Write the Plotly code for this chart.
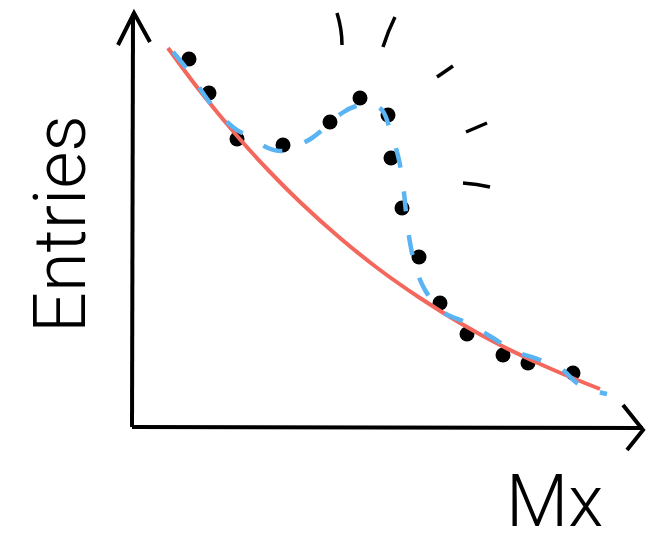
import plotly.graph_objects as go

# Measured invariant mass spectrum (arbitrary units)
mx_data = [5.7, 7.7, 10.5, 15.1, 19.8, 22.8, 25.6, 25.9, 27.0, 28.7, 30.8, 33.5, 37.1, 39.6, 44.1]
entries_data = [36.8, 33.4, 28.8, 28.2, 30.5, 32.9, 31.2, 26.9, 21.9, 17.0, 12.4, 9.3, 7.2, 6.4, 5.4]

# Smooth falling background expectation
mx_bkg = [3.6, 6.8, 10.6, 13.8, 16.8, 20.8, 24.8, 28.8, 32.8, 36.8, 40.8, 44.3, 46.8]
entries_bkg = [37.9, 33.6, 29.0, 25.5, 22.5, 18.9, 15.7, 12.9, 10.4, 8.2, 6.3, 4.8, 3.8]

# Background plus resonance bump
mx_sig = [4.1, 5.8, 7.3, 8.8, 10.5, 12.0, 13.6, 15.1, 16.5, 18.0, 19.5, 21.0, 22.4, 23.8, 25.0,
          25.9, 26.7, 27.2, 27.6, 28.3, 29.3, 31.1, 33.5, 36.1, 38.0, 40.8, 42.8, 44.8, 47.5]
entries_sig = [37.5, 35.4, 33.1, 31.2, 29.7, 28.9, 27.9, 27.6, 28.1, 28.9, 30.1, 31.4, 32.1, 32.3, 31.7,
               29.4, 26.7, 23.4, 19.7, 16.2, 13.7, 11.5, 10.4, 8.9, 7.7, 6.7, 5.9, 4.2, 3.3]

x_title = "Mx"
y_title = "Entries"

BLACK = "#000000"
RED = "#f4675c"
BLUE = "#5ab3f2"

fig = go.Figure()

fig.add_trace(go.Scatter(
    x=mx_data, y=entries_data, mode="markers",
    marker=dict(color=BLACK, size=15, line=dict(width=0)),
    hoverinfo="skip",
))
fig.add_trace(go.Scatter(
    x=mx_bkg, y=entries_bkg, mode="lines",
    line=dict(color=RED, width=4, shape="spline", smoothing=1.0),
    hoverinfo="skip",
))
fig.add_trace(go.Scatter(
    x=mx_sig, y=entries_sig, mode="lines",
    line=dict(color=BLUE, width=4.5, shape="spline", smoothing=1.0, dash="20px,24px"),
    hoverinfo="skip",
))

axis_style = dict(color=BLACK, width=4)
shapes = [
    # axes with hand-drawn arrow heads
    dict(type="path", path="M 0,0 L 0.1,41.2", line=axis_style),
    dict(type="path", path="M -1.4,38.2 L 0.2,41.4 L 1.8,38.5", line=axis_style),
    dict(type="path", path="M 0,0 L 51.1,-0.1", line=axis_style),
    dict(type="path", path="M 49.1,2.2 L 51.1,-0.3 L 49.5,-2.3", line=axis_style),
]

# little strokes around the bump
stroke_style = dict(color=BLACK, width=3.5)
strokes = [
    "M 20.5,41.4 Q 21.0,39.8 21.0,38.2",
    "M 26.3,41.0 Q 25.6,39.6 25.1,38.0",
    "M 32.1,36.1 L 30.5,35.0",
    "M 35.5,30.4 L 33.4,29.5",
    "M 33.1,24.4 Q 34.5,24.3 35.8,24.0",
]
for p in strokes:
    shapes.append(dict(type="path", path=p, line=stroke_style))

label_font = dict(family="Roboto", size=72, color=BLACK, weight=300)

fig.update_layout(
    width=656, height=533,
    margin=dict(l=0, r=0, t=0, b=0),
    paper_bgcolor="white", plot_bgcolor="white",
    showlegend=False,
    xaxis=dict(range=[-13.2, 52.4], visible=False, domain=[0, 1]),
    yaxis=dict(range=[-10.6, 42.7], visible=False, domain=[0, 1]),
    shapes=shapes,
    annotations=[
        dict(x=-7.2, y=20.3, text=y_title, showarrow=False, textangle=-90,
             font=label_font, xanchor="center", yanchor="middle"),
        dict(x=42.2, y=-7.4, text=x_title, showarrow=False,
             font=label_font, xanchor="center", yanchor="middle"),
    ],
)

fig.write_html("out.html")
